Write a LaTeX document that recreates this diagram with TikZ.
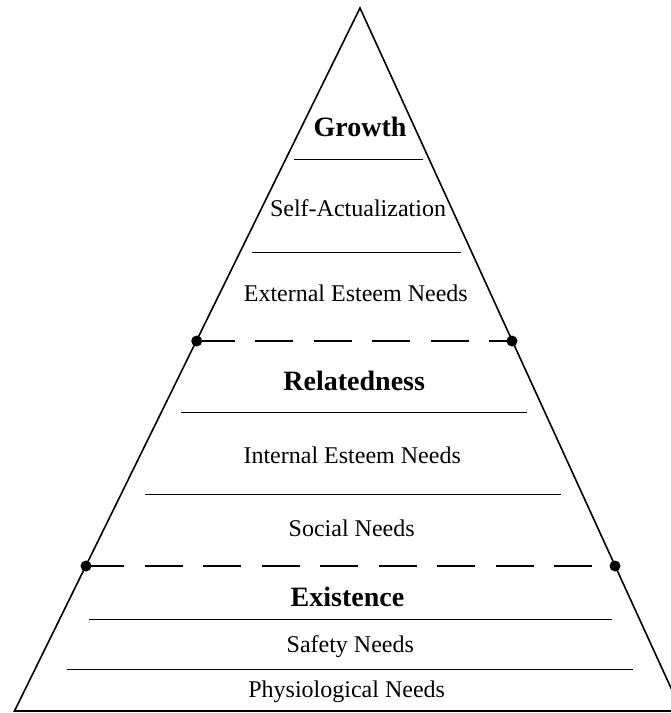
\documentclass[tikz,border=0pt]{standalone}
\usepackage{fontspec}
\setmainfont{Liberation Serif}
\begin{document}
\begin{tikzpicture}[x=1pt,y=-1pt,
  edge/.style={line width=1.6pt, line join=miter},
  sep/.style={line width=1pt},
  level/.style={dash pattern=on 38pt off 20.5pt, line width=2.4pt},
  dot/.style={circle, fill=black, inner sep=0pt, minimum size=11pt},
  lbl/.style={anchor=base, inner sep=0pt, font=\fontsize{24}{28}\selectfont},
  head/.style={anchor=base, inner sep=0pt, font=\fontsize{28}{32}\selectfont\bfseries}]
\useasboundingbox (0,0) rectangle (671,713);
\clip (0,0) rectangle (671,713);
% triangle corners
\coordinate (apex) at (360,8);
\coordinate (bl) at (14.5,711);
\coordinate (br) at (681.5,711);
\draw[edge] (apex) -- (bl) -- (br) -- cycle;
% level points
\coordinate (ul) at (196.7,341);
\coordinate (ur) at (512,341);
\coordinate (ll) at (86,566);
\coordinate (lr) at (615,566);
\draw[level] (ul) -- (ur);
\draw[level] (ll) -- (lr);
\node[dot] (dul) at (ul) {};
\node[dot] (dur) at (ur) {};
\node[dot] (dll) at (ll) {};
\node[dot] (dlr) at (lr) {};
% separators
\draw[sep] (294,159) -- (423,159);
\draw[sep] (252,252) -- (461,252);
\draw[sep] (181,412.7) -- (527,412.7);
\draw[sep] (145,494) -- (561,494);
\draw[sep] (89,619) -- (612,619);
\draw[sep] (67,669.5) -- (633,669.5);
% labels
\node[head] (growth) at (360,136.5) {Growth};
\node[lbl] (selfact) at (358,216) {Self-Actualization};
\node[lbl] (extest) at (355.8,301.5) {External Esteem Needs};
\node[head] (related) at (354.2,390.5) {Relatedness};
\node[lbl] (intest) at (352.2,463) {Internal Esteem Needs};
\node[lbl] (social) at (351.7,536.5) {Social Needs};
\node[head] (exist) at (347.5,606) {Existence};
\node[lbl] (safety) at (350.3,652.5) {Safety Needs};
\node[lbl] (physio) at (346.7,697.5) {Physiological Needs};
\end{tikzpicture}
\end{document}
